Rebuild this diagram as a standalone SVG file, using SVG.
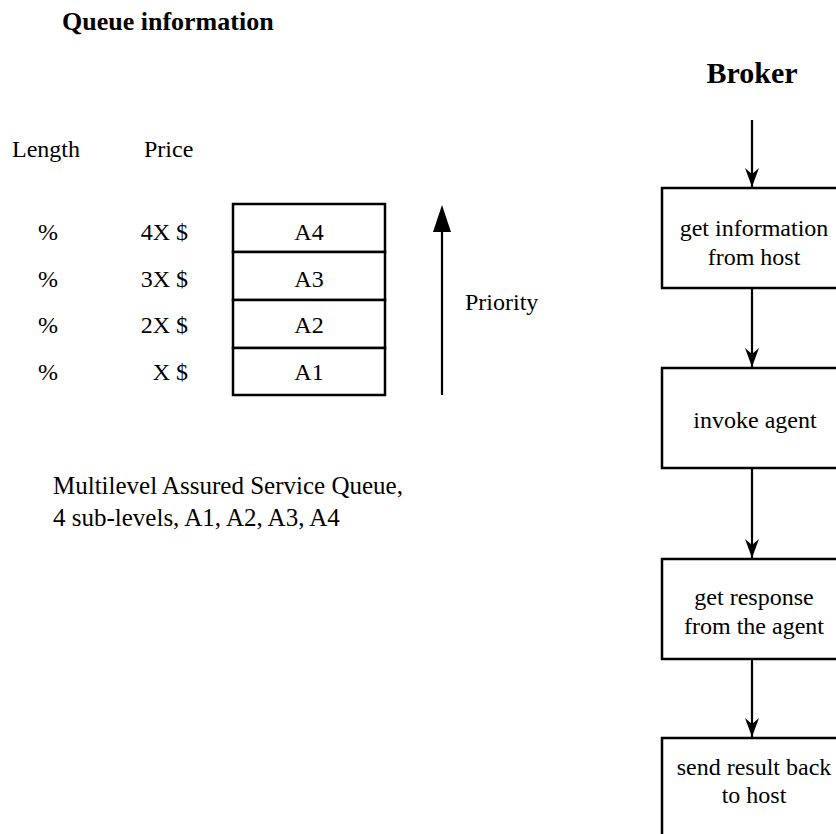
<svg xmlns="http://www.w3.org/2000/svg" width="836" height="834" viewBox="0 0 836 834">
<style>
text{font-family:"Liberation Serif","Times New Roman",serif;fill:#000;font-size:24px}
.b{font-weight:bold}
.c{text-anchor:middle}
.e{text-anchor:end}
.box{fill:#fff;stroke:#000;stroke-width:2.5}
.ln{stroke:#000;stroke-width:2.2;fill:none}
</style>
<defs>
<marker id="ah" markerWidth="20" markerHeight="16" refX="19" refY="7" orient="auto" markerUnits="userSpaceOnUse" viewBox="0 0 20 16">
<path d="M0,0 L19,7 L0,14 L6,7 Z" fill="#000"/>
</marker>
</defs>
<g id="left-title"><text class="b" x="62" y="30" style="font-size:26px">Queue information</text></g>
<g id="headers">
<text x="12" y="157">Length</text>
<text x="144" y="157">Price</text>
</g>
<g id="row-A4">
<text class="c" x="48" y="240">%</text>
<text class="e" x="188" y="240">4X $</text>
<rect class="box" x="233" y="204" width="152" height="48"/>
<text class="c" x="309" y="240">A4</text>
</g>
<g id="row-A3">
<text class="c" x="48" y="287">%</text>
<text class="e" x="188" y="287">3X $</text>
<rect class="box" x="233" y="252" width="152" height="48"/>
<text class="c" x="309" y="287">A3</text>
</g>
<g id="row-A2">
<text class="c" x="48" y="333">%</text>
<text class="e" x="188" y="333">2X $</text>
<rect class="box" x="233" y="300" width="152" height="48"/>
<text class="c" x="309" y="333">A2</text>
</g>
<g id="row-A1">
<text class="c" x="48" y="380">%</text>
<text class="e" x="188" y="380">X $</text>
<rect class="box" x="233" y="348" width="152" height="47"/>
<text class="c" x="309" y="380">A1</text>
</g>
<g id="priority">
<line class="ln" x1="442" y1="395" x2="442" y2="230"/>
<path d="M433,232 L442,205 L451,232 Z" fill="#000"/>
<text x="465" y="310">Priority</text>
</g>
<g id="caption">
<text x="53" y="494" style="font-size:25px">Multilevel Assured Service Queue,</text>
<text x="53" y="526" style="font-size:25px">4 sub-levels, A1, A2, A3, A4</text>
</g>
<g id="broker-title"><text class="b c" x="752" y="83" style="font-size:30px">Broker</text></g>
<g id="n1">
<rect class="box" x="662" y="188" width="200" height="100"/>
<text class="c" x="754" y="236">get information</text>
<text class="c" x="754" y="265">from host</text>
</g>
<g id="n2">
<rect class="box" x="662" y="368" width="200" height="100"/>
<text class="c" x="755" y="428">invoke agent</text>
</g>
<g id="n3">
<rect class="box" x="662" y="559" width="200" height="100"/>
<text class="c" x="754" y="605">get response</text>
<text class="c" x="754" y="634">from the agent</text>
</g>
<g id="n4">
<rect class="box" x="662" y="738" width="200" height="120"/>
<text class="c" x="754" y="775">send result back</text>
<text class="c" x="754" y="803">to host</text>
</g>
<g id="connectors">
<line class="ln" x1="752" y1="120" x2="752" y2="187" marker-end="url(#ah)"/>
<line class="ln" x1="752" y1="289" x2="752" y2="367" marker-end="url(#ah)"/>
<line class="ln" x1="752" y1="469" x2="752" y2="558" marker-end="url(#ah)"/>
<line class="ln" x1="752" y1="660" x2="752" y2="737" marker-end="url(#ah)"/>
</g>
</svg>
